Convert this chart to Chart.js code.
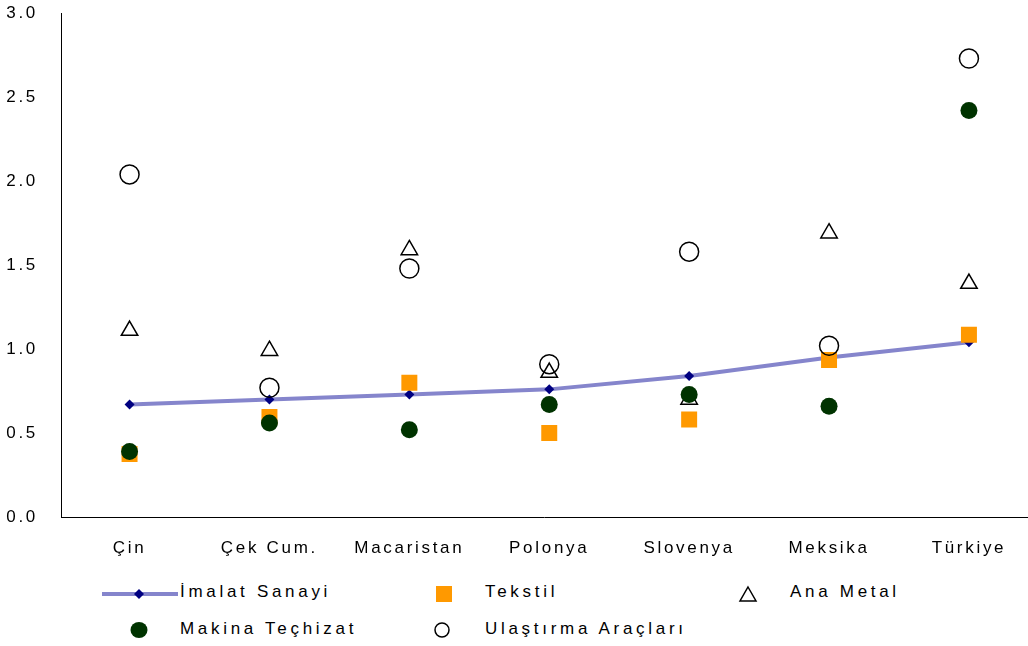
<!DOCTYPE html>
<html>
<head>
<meta charset="utf-8">
<script src="https://cdn.jsdelivr.net/npm/chart.js@4/dist/chart.umd.min.js"></script>
<style>
  body { margin: 0; background: #fff; }
  #wrap { position: relative; width: 1028px; height: 646px; overflow: hidden; font-family: "Liberation Sans", Arial, sans-serif; }
  #chart { position: absolute; left: 0; top: -20px; }
  #legend .item { position: absolute; font-size: 17px; letter-spacing: 3.7px; color: #000; line-height: 20px; }
  #legend svg { position: absolute; }
</style>
</head>
<body>
<div id="wrap">
  <canvas id="chart" width="1039" height="590"></canvas>
  <div id="legend"></div>
</div>
<script>
const categories = ['Çin', 'Çek Cum.', 'Macaristan', 'Polonya', 'Slovenya', 'Meksika', 'Türkiye'];
const imalatSanayi = [0.67, 0.70, 0.73, 0.76, 0.84, 0.95, 1.04];
const tekstil = [0.375, 0.595, 0.80, 0.50, 0.58, 0.935, 1.085];
const anaMetal = [1.11, 0.99, 1.59, 0.86, 0.70, 1.69, 1.39];
const makinaTechizat = [0.39, 0.56, 0.52, 0.67, 0.73, 0.66, 2.42];
const ulastirma = [2.04, 0.77, 1.48, 0.91, 1.58, 1.02, 2.73];
const yTicks = [0, 0.5, 1.0, 1.5, 2.0, 2.5, 3.0];

const toPoints = vals => vals.map((v, i) => ({ x: i, y: v }));

// canvas state gets reset on resize, so set spacing every time
const spacing = {
  id: 'spacing',
  beforeLayout(chart) { chart.ctx.letterSpacing = '2.7px'; },
  beforeDraw(chart) { chart.ctx.letterSpacing = '2.7px'; }
};

new Chart(document.getElementById('chart'), {
  type: 'scatter',
  plugins: [spacing],
  data: {
    datasets: [
      {
        label: 'İmalat Sanayi', data: toPoints(imalatSanayi), showLine: true,
        borderColor: '#8585cc', borderWidth: 4, tension: 0,
        pointStyle: 'rectRot', pointRadius: 5, pointBackgroundColor: '#000080',
        pointBorderColor: '#000080', pointBorderWidth: 0, order: 5
      },
      {
        label: 'Tekstil', data: toPoints(tekstil),
        pointStyle: 'rect', pointRadius: 11.3, pointBackgroundColor: '#ff9900',
        pointBorderWidth: 0, order: 4
      },
      {
        label: 'Ana Metal', data: toPoints(anaMetal),
        pointStyle: 'triangle', pointRadius: 9.5, pointBackgroundColor: 'rgba(0,0,0,0)',
        pointBorderColor: '#000', pointBorderWidth: 1.5, order: 3
      },
      {
        label: 'Makina Teçhizat', data: toPoints(makinaTechizat),
        pointStyle: 'circle', pointRadius: 8.5, pointBackgroundColor: '#003300',
        pointBorderColor: '#003300', pointBorderWidth: 0, order: 1
      },
      {
        label: 'Ulaştırma Araçları', data: toPoints(ulastirma),
        pointStyle: 'circle', pointRadius: 9.5, pointBackgroundColor: 'rgba(0,0,0,0)',
        pointBorderColor: '#000', pointBorderWidth: 1.5, order: 2
      }
    ]
  },
  options: {
    responsive: false,
    animation: false,
    layout: { padding: { top: 13, left: 0, right: 0, bottom: 0 } },
    plugins: { legend: { display: false }, tooltip: { enabled: false } },
    scales: {
      x: {
        type: 'linear', min: -0.49, max: 6.42,
        grid: { display: false, drawTicks: false },
        border: { display: true, color: '#000', width: 1 },
        afterBuildTicks: s => { s.ticks = categories.map((c, i) => ({ value: i })); },
        afterFit: s => { s.height = 53; },
        ticks: {
          autoSkip: false, maxRotation: 0, padding: 21,
          color: '#000', font: { family: '"Liberation Sans", Arial', size: 17 },
          callback: v => categories[v]
        }
      },
      y: {
        min: 0, max: 3,
        grid: { display: false, drawTicks: false },
        border: { display: true, color: '#000', width: 1 },
        afterBuildTicks: s => { s.ticks = yTicks.map(v => ({ value: v })); },
        afterFit: s => { s.width = 61; },
        ticks: {
          padding: 23, color: '#000', font: { family: '"Liberation Sans", Arial', size: 17 },
          callback: v => v.toFixed(1)
        }
      }
    }
  }
});

// legend laid out in a 3-column grid like the original
const legendItems = [
  { text: 'İmalat Sanayi', x: 180, y: 582,
    icon: '<svg style="left:100px;top:584px" width="80" height="20"><line x1="2" y1="10" x2="78" y2="10" stroke="#8585cc" stroke-width="4"/><polygon points="39,5 44,10 39,15 34,10" fill="#000080"/></svg>' },
  { text: 'Tekstil', x: 485, y: 582,
    icon: '<svg style="left:434px;top:584px" width="20" height="20"><rect x="2" y="2" width="16" height="16" fill="#ff9900"/></svg>' },
  { text: 'Ana Metal', x: 790, y: 582,
    icon: '<svg style="left:737px;top:584px" width="22" height="20"><polygon points="11,3 19,17 3,17" fill="none" stroke="#000" stroke-width="1.5"/></svg>' },
  { text: 'Makina Teçhizat', x: 180, y: 619,
    icon: '<svg style="left:129px;top:620px" width="20" height="20"><ellipse cx="10" cy="10" rx="8.5" ry="8" fill="#003300"/></svg>' },
  { text: 'Ulaştırma Araçları', x: 485, y: 619,
    icon: '<svg style="left:432px;top:620px" width="20" height="20"><circle cx="10" cy="10" r="7" fill="none" stroke="#000" stroke-width="1.5"/></svg>' }
];
const legend = document.getElementById('legend');
legend.innerHTML = legendItems.map(it =>
  it.icon + '<div class="item" style="left:' + it.x + 'px;top:' + it.y + 'px">' + it.text + '</div>'
).join('');
</script>
</body>
</html>
